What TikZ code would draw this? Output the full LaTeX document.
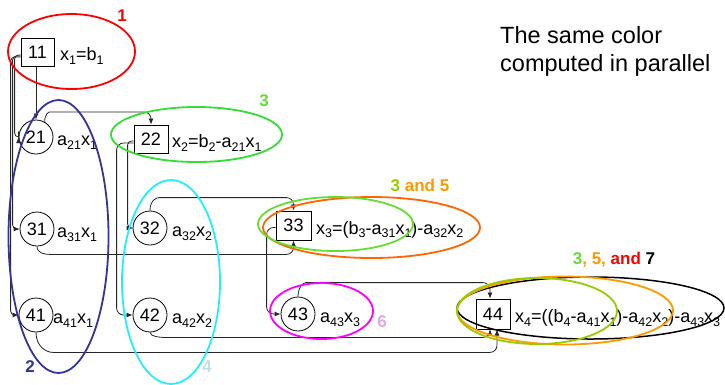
\documentclass[tikz,border=0pt]{standalone}
\usepackage{fontspec}
\setmainfont{Liberation Sans}
\usetikzlibrary{arrows.meta,calc}
\newcommand\sbs[1]{\raisebox{-3.5pt}{\fontsize{12.5}{13}\selectfont #1}}
\definecolor{cred}{HTML}{FF0000}
\definecolor{cnavy}{HTML}{333399}
\definecolor{cgreen}{HTML}{33DD33}
\definecolor{clgreen}{HTML}{66DD33}
\definecolor{cyg}{HTML}{99CC00}
\definecolor{ccyan}{HTML}{22EEFF}
\definecolor{cgrey}{HTML}{C4DEE6}
\definecolor{corange}{HTML}{FF6600}
\definecolor{corange2}{HTML}{FF9900}
\definecolor{cmag}{HTML}{FF00FF}
\definecolor{cplum}{HTML}{E0A8EC}
\begin{document}
\begin{tikzpicture}[x=1pt,y=-1pt,
  box/.style={draw=black,line width=1pt,inner sep=0pt,font=\fontsize{18}{20}\selectfont},
  circ/.style={circle,draw=black,line width=0.8pt,minimum size=34pt,inner sep=0pt,font=\fontsize{18}{20}\selectfont},
  lab/.style={anchor=base west,inner sep=0pt,font=\fontsize{18}{20}\selectfont},
  conn/.style={draw=black!85,line width=0.8pt,rounded corners=7pt,-{Latex[length=6pt,width=5pt]}},
  tight/.style={rounded corners=4pt},
  grp/.style={line width=1.8pt},
  num/.style={inner sep=0pt,font=\fontsize{17}{20}\selectfont\bfseries}]
\useasboundingbox (0,0) rectangle (725,384);
\fill[white] (0,0) rectangle (725,384);

% nodes
\node[box,minimum width=33pt,minimum height=28pt] (n11) at (37.5,52) {11};
\node[circ] (n21) at (36,137) {21};
\node[circ] (n31) at (37,229) {31};
\node[circ] (n41) at (36,315) {41};
\node[box,minimum width=34pt,minimum height=28pt] (n22) at (151,139) {22};
\node[circ] (n32) at (150,228) {32};
\node[circ] (n42) at (150,315) {42};
\node[box,minimum width=35pt,minimum height=29pt] (n33) at (293.5,225.5) {33};
\node[circ] (n43) at (298,314) {43};
\node[box,minimum width=34pt,minimum height=30pt] (n44) at (493,314) {44};

% labels
\node[lab] (l11) at (60,60.5) {x\sbs{1}=b\sbs{1}};
\node[lab] (l21) at (57,145.5) {a\sbs{21}x\sbs{1}};
\node[lab] (l31) at (57,237.5) {a\sbs{31}x\sbs{1}};
\node[lab] (l41) at (53,323.5) {a\sbs{41}x\sbs{1}};
\node[lab] (l22) at (172,147.5) {x\sbs{2}=b\sbs{2}-a\sbs{21}x\sbs{1}};
\node[lab] (l32) at (172,236.5) {a\sbs{32}x\sbs{2}};
\node[lab] (l42) at (172,323.5) {a\sbs{42}x\sbs{2}};
\node[lab] (l33) at (316,234) {x\sbs{3}=(b\sbs{3}-a\sbs{31}x\sbs{1})-a\sbs{32}x\sbs{2}};
\node[lab] (l43) at (320,322.5) {a\sbs{43}x\sbs{3}};
\node[lab] (l44) at (515,322.5) {x\sbs{4}=((b\sbs{4}-a\sbs{41}x\sbs{1})-a\sbs{42}x\sbs{2})-a\sbs{43}x\sbs{3}};

% connectors from 11
\draw[conn] (n11.south -| n21.north) -- (n21.north);
\draw[conn,tight] ($(n11.west)+(0,3)$) -| ($(n21.west)+(-4,0)$) -- (n21.west);
\draw[conn,tight] ($(n11.west)+(0,4)$) -| ($(n31.west)+(-7,0)$) -- (n31.west);
\draw[conn,tight] ($(n11.west)+(0,5)$) -| ($(n41.west)+(-8,0)$) -- (n41.west);
% 21 -> 22
\draw[conn] (n21.60) .. controls +(0,-8) and +(-8,0) .. ($(n21.60)+(12,-10)$) -| (n22.north);
% 22 -> 32, 42
\draw[conn,tight] ($(n22.west)+(0,2)$) -| ($(n32.west)+(-5,0)$) -- (n32.west);
\draw[conn] ($(n22.west)+(0,4)$) -| ($(n42.west)+(-16,0)$) -- (n42.west);
% 31, 32 -> 33
\draw[conn] (n31.south) .. controls +(0,7) and +(-12,0) .. ($(n31.south)+(20,8)$) -| (n33.south);
\draw[conn] (n32.north) .. controls +(0,-10) and +(-10,0) .. ($(n32.north)+(16,-13)$) -| (n33.north);
% 33 -> 43
\draw[conn] ($(n33.west)+(0,2)$) -| ($(n43.west)+(-14,0)$) -- (n43.west);
% 41, 42, 43 -> 44
\draw[conn] (n41.south) .. controls +(0,14) and +(-14,0) .. ($(n41.south)+(24,20)$) -| ($(n44.south)+(4,0)$);
\draw[conn] (n42.south) .. controls +(0,4) and +(-10,0) .. ($(n42.south)+(20,5)$) -| ($(n44.south)+(-3,0)$);
\draw[conn] (n43.north) .. controls +(0,-9) and +(-10,0) .. ($(n43.north)+(15,-14)$) -| ($(n44.north)+(-3,0)$);

% group ellipses
\draw[grp,cred] (71.5,51.5) ellipse [x radius=63.5pt, y radius=37.5pt];
\draw[grp,cnavy] (58.5,236.5) ellipse [x radius=50pt, y radius=136.5pt];
\draw[grp,cgreen] (196.5,134.5) ellipse [x radius=85.5pt, y radius=27.5pt];
\draw[grp,ccyan] (171,282) ellipse [x radius=49pt, y radius=102pt];
\draw[grp,corange] (371.5,227.5) ellipse [x radius=108.5pt, y radius=30.5pt];
\draw[grp,clgreen] (335.5,224) ellipse [x radius=77.5pt, y radius=27pt];
\draw[grp,cmag] (321.5,311) ellipse [x radius=51.5pt, y radius=28pt];
\draw[line width=1.5pt,black] (590.5,308) ellipse [x radius=133.5pt, y radius=31pt];
\draw[grp,corange2] (565,310.5) ellipse [x radius=108pt, y radius=34pt];
\draw[grp,cyg] (537,311) ellipse [x radius=80pt, y radius=33pt];

% group numbers
\node[num,text=cred] (g1) at (122,16) {1};
\node[num,text=cnavy] (g2) at (30,367) {2};
\node[num,text=clgreen] (g3) at (264,101) {3};
\node[num,text=cgrey] (g4) at (207,367) {4};
\node[num] (g35) at (420,185) {\textcolor{cyg}{3} \textcolor{corange2}{and 5}};
\node[num,text=cplum] (g6) at (382,322) {6};
\node[num] (g357) at (614,260) {\textcolor{clgreen}{3}\textcolor{corange2}{, 5, }\textcolor{cred}{and} \textcolor{black}{7}};

% title
\node[anchor=north west,inner sep=0pt,align=left,font=\fontsize{23.5}{28}\selectfont] (title) at (500,26) {The same color\\computed in parallel};
\end{tikzpicture}
\end{document}
